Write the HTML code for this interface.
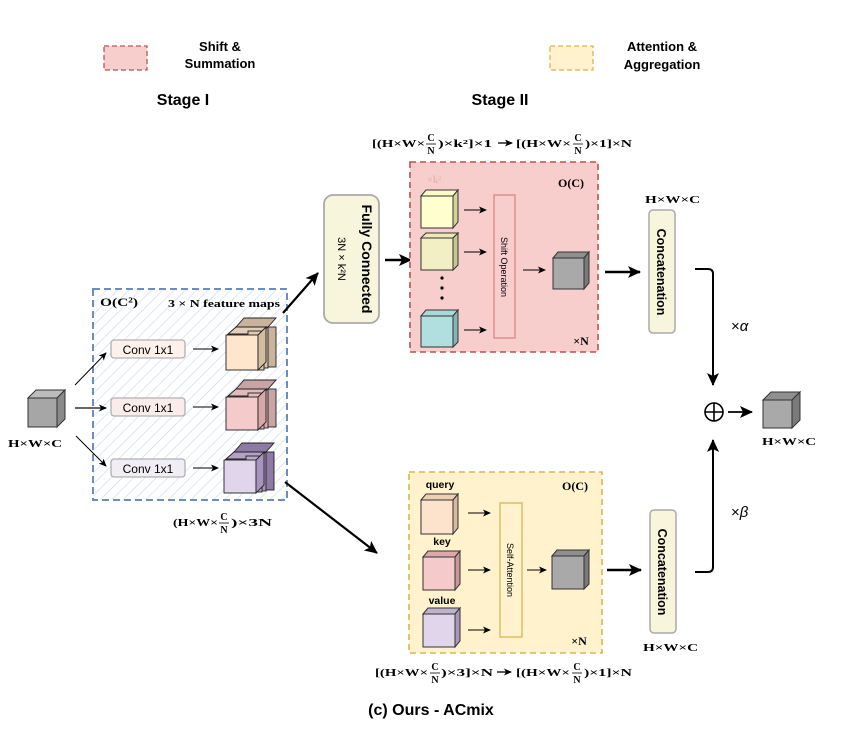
<!DOCTYPE html>
<html><head><meta charset="utf-8"><style>
html,body{margin:0;padding:0;background:#fff;}
svg{display:block;}
text{font-family:"Liberation Sans",sans-serif;}
.m{font-family:"Liberation Serif",serif;font-weight:bold;}
</style></head><body>
<svg width="868" height="730" viewBox="0 0 868 730" xmlns="http://www.w3.org/2000/svg">
<defs>
<marker id="a" markerWidth="8" markerHeight="8" refX="7" refY="4" orient="auto" markerUnits="userSpaceOnUse"><path d="M0,0.5 L8,4 L0,7.5 L2,4z" fill="#000"/></marker>
<marker id="b" markerWidth="14" markerHeight="12" refX="12" refY="6" orient="auto" markerUnits="userSpaceOnUse"><path d="M0,0 L13,6 L0,12 L3,6z" fill="#000"/></marker>
<pattern id="h" width="8" height="8" patternUnits="userSpaceOnUse" patternTransform="rotate(45)"><line x1="0" y1="0" x2="0" y2="8" stroke="#c5d8ef" stroke-width="1.2"/></pattern>
</defs>

<!-- legend -->
<rect x="104" y="46" width="43" height="24" fill="#f8cecc" stroke="#b85450" stroke-dasharray="5,3" stroke-width="1.3"/>
<text x="220" y="51" font-size="13" text-anchor="middle" font-weight="bold">Shift &amp;</text>
<text x="220" y="68" font-size="13" text-anchor="middle" font-weight="bold">Summation</text>
<rect x="550" y="46" width="43" height="24" fill="#fff2cc" stroke="#d6b656" stroke-dasharray="5,3" stroke-width="1.3"/>
<text x="662" y="51" font-size="13" text-anchor="middle" font-weight="bold">Attention &amp;</text>
<text x="662" y="69" font-size="13" text-anchor="middle" font-weight="bold">Aggregation</text>
<text x="183" y="105" font-size="16" text-anchor="middle" font-weight="bold">Stage I</text>
<text x="500" y="105" font-size="16" text-anchor="middle" font-weight="bold">Stage II</text>

<!-- input cube -->
<g stroke="#333" stroke-width="1">
<polygon points="28,398 36,390 65,390 57,398" fill="#bdbdbd"/>
<polygon points="57,398 65,390 65,419 57,427" fill="#8a8a8a"/>
<rect x="28" y="398" width="29" height="29" fill="#a6a6a6"/>
</g>
<text x="8" y="447" class="m" font-size="11" textLength="54" lengthAdjust="spacingAndGlyphs">H×W×C</text>

<!-- blue box -->
<rect x="93" y="289" width="194" height="211" fill="url(#h)" stroke="#6c8ebf" stroke-width="2" stroke-dasharray="7,4"/>
<text x="100" y="306" class="m" font-size="12" textLength="38" lengthAdjust="spacingAndGlyphs">O(C²)</text>
<text x="168" y="307" class="m" font-size="11" textLength="112" lengthAdjust="spacingAndGlyphs">3 × N  feature maps</text>

<line x1="75" y1="385" x2="106" y2="353" stroke="#000" stroke-width="1" marker-end="url(#a)"/>
<line x1="75" y1="408" x2="106" y2="408" stroke="#333" stroke-width="1.5" marker-end="url(#a)"/>
<line x1="76" y1="436" x2="106" y2="466" stroke="#000" stroke-width="1" marker-end="url(#a)"/>

<g font-size="12" text-anchor="middle">
<rect x="111" y="340" width="74" height="18" rx="3" fill="#fdf1ea" stroke="#b0b0b0" stroke-width="1.3"/>
<text x="148" y="354">Conv 1x1</text>
<rect x="111" y="398" width="74" height="18" rx="3" fill="#fbeceb" stroke="#b0b0b0" stroke-width="1.3"/>
<text x="148" y="412">Conv 1x1</text>
<rect x="111" y="459" width="74" height="18" rx="3" fill="#f1edf5" stroke="#b0b0b0" stroke-width="1.3"/>
<text x="148" y="473">Conv 1x1</text>
</g>
<line x1="193" y1="349" x2="218" y2="349" stroke="#000" marker-end="url(#a)"/>
<line x1="193" y1="407" x2="218" y2="407" stroke="#000" marker-end="url(#a)"/>
<line x1="193" y1="468" x2="218" y2="468" stroke="#000" marker-end="url(#a)"/>

<!-- stacks -->
<g stroke="#222" stroke-width="0.9">
<g>
<polygon points="236,327 244,318 276,318 268,327" fill="#c9b39c"/>
<rect x="256" y="327" width="20" height="40" fill="#c9b39c"/>
<rect x="252" y="327" width="16" height="41" fill="#d8c3ac"/>
<polygon points="228,334 236,327 268,327 260,334" fill="#e3cfb8"/>
<rect x="248" y="331" width="16" height="39" fill="#e0c9ae"/>
<rect x="226" y="335" width="32" height="35" fill="#fde6cc"/>
<polygon points="258,335 266,327 266,362 258,370" fill="#d4bca0"/>
</g>
<g>
<polygon points="236,389 244,380 276,380 268,389" fill="#c9a4a4"/>
<rect x="256" y="389" width="20" height="38" fill="#c9a4a4"/>
<rect x="252" y="389" width="16" height="39" fill="#d9b0b0"/>
<polygon points="228,396 236,389 268,389 260,396" fill="#e3baba"/>
<rect x="248" y="393" width="16" height="36" fill="#e4bcbc"/>
<rect x="226" y="397" width="32" height="33" fill="#f5caca"/>
<polygon points="258,397 266,389 266,422 258,430" fill="#d6a8a8"/>
</g>
<g>
<polygon points="234,452 242,443 274,443 266,452" fill="#8f7aa6"/>
<rect x="254" y="452" width="20" height="38" fill="#8f7aa6"/>
<rect x="250" y="452" width="16" height="39" fill="#a792bb"/>
<polygon points="226,459 234,452 266,452 258,459" fill="#b3a2c6"/>
<rect x="246" y="456" width="16" height="36" fill="#b8a8cb"/>
<rect x="224" y="460" width="32" height="33" fill="#e0d5ea"/>
<polygon points="256,460 264,452 264,485 256,493" fill="#a894bf"/>
</g>
</g>
<!-- (HxWxC/N)x3N -->
<g class="m" font-size="11">
<text x="173" y="526" class="m" textLength="45" lengthAdjust="spacingAndGlyphs">(H×W×</text>
<text x="224" y="520" class="m" font-size="10" text-anchor="middle">C</text>
<text x="224" y="533" class="m" font-size="10" text-anchor="middle">N</text>
<text x="231" y="526" class="m" textLength="41" lengthAdjust="spacingAndGlyphs">)×3N</text>
</g>
<line x1="219" y1="523" x2="229" y2="523" stroke="#000" stroke-width="0.8"/>

<!-- arrows to stage II -->
<line x1="283" y1="313" x2="318" y2="273" stroke="#000" stroke-width="2.2" marker-end="url(#b)"/>
<line x1="285" y1="482" x2="377" y2="553" stroke="#000" stroke-width="2.2" marker-end="url(#b)"/>

<!-- FC -->
<rect x="324" y="195" width="55" height="128" rx="9" fill="#f7f5dc" stroke="#aaa" stroke-width="1.8"/>
<text transform="translate(362,259) rotate(90)" font-size="14" font-weight="bold" text-anchor="middle">Fully Connected</text>
<text transform="translate(338,259) rotate(90)" font-family="Liberation Serif,serif" font-size="11" text-anchor="middle">3N × k²N</text>
<line x1="385" y1="260" x2="411" y2="260" stroke="#000" stroke-width="2.5" marker-end="url(#b)"/>

<!-- top formula -->
<text x="372" y="147" class="m" font-size="11" textLength="53" lengthAdjust="spacingAndGlyphs">[(H×W×</text>
<text x="431" y="141" class="m" font-size="10" text-anchor="middle">C</text>
<text x="431" y="154" class="m" font-size="10" text-anchor="middle">N</text>
<line x1="426" y1="144" x2="436" y2="144" stroke="#000" stroke-width="0.8"/>
<text x="438" y="147" class="m" font-size="11" textLength="54" lengthAdjust="spacingAndGlyphs">)×k²]×1</text>
<line x1="498" y1="143" x2="512" y2="143" stroke="#000" stroke-width="1.3" marker-end="url(#a)"/>
<text x="516" y="147" class="m" font-size="11" textLength="55" lengthAdjust="spacingAndGlyphs">[(H×W×</text>
<text x="578" y="141" class="m" font-size="10" text-anchor="middle">C</text>
<text x="578" y="154" class="m" font-size="10" text-anchor="middle">N</text>
<line x1="573" y1="144" x2="583" y2="144" stroke="#000" stroke-width="0.8"/>
<text x="585" y="147" class="m" font-size="11" textLength="47" lengthAdjust="spacingAndGlyphs">)×1]×N</text>

<!-- pink box -->
<rect x="410" y="162" width="188" height="190" fill="#f8cecc" stroke="#b85450" stroke-width="1.6" stroke-dasharray="6,4"/>
<text x="427" y="183" class="m" font-size="10" fill="#e8b4b2">×k²</text>
<text x="571" y="187" class="m" font-size="12" text-anchor="middle">O(C)</text>
<text x="581" y="345" class="m" font-size="12" text-anchor="middle">×N</text>
<g stroke="#333" stroke-width="1">
<polygon points="421,196 426,190 458,190 453,196" fill="#fdfbc8"/><polygon points="453,196 458,190 458,222 453,228" fill="#d6d39a"/><rect x="421" y="196" width="32" height="32" fill="#fffecf"/>
<polygon points="421,238 426,233 458,233 453,238" fill="#eeeab8"/><polygon points="453,238 458,233 458,265 453,270" fill="#c9c58f"/><rect x="421" y="238" width="32" height="32" fill="#f2efc5"/>
<polygon points="421,316 426,310 458,310 453,316" fill="#a9d8d9"/><polygon points="453,316 458,310 458,342 453,347" fill="#86b4b6"/><rect x="421" y="316" width="32" height="31" fill="#b1dfe0"/>
</g>
<circle cx="442" cy="278" r="1.6" fill="#000"/><circle cx="442" cy="288" r="1.6" fill="#000"/><circle cx="442" cy="298" r="1.6" fill="#000"/>
<line x1="464" y1="210" x2="486" y2="210" stroke="#000" marker-end="url(#a)"/>
<line x1="464" y1="252" x2="486" y2="252" stroke="#000" marker-end="url(#a)"/>
<line x1="464" y1="330" x2="486" y2="330" stroke="#000" marker-end="url(#a)"/>
<rect x="494" y="195" width="21" height="143" fill="#f8cecc" stroke="#d88886" stroke-width="1.3"/>
<text transform="translate(501,267) rotate(90)" font-size="9" text-anchor="middle">Shift Operation</text>
<line x1="523" y1="270" x2="545" y2="270" stroke="#000" marker-end="url(#a)"/>
<g stroke="#333" stroke-width="1">
<polygon points="553,258 558,252 589,252 584,258" fill="#8f8f8f"/><polygon points="584,258 589,252 589,283 584,289" fill="#7a7a7a"/><rect x="553" y="258" width="31" height="31" fill="#a9a9a9"/>
</g>
<line x1="605" y1="272" x2="640" y2="272" stroke="#000" stroke-width="2.5" marker-end="url(#b)"/>

<!-- concat 1 -->
<text x="645" y="203" class="m" font-size="11" textLength="55" lengthAdjust="spacingAndGlyphs">H×W×C</text>
<rect x="649" y="210" width="26" height="123" rx="4" fill="#f7f5dc" stroke="#aaa" stroke-width="1.5"/>
<text transform="translate(657,272) rotate(90)" font-size="12.5" font-weight="bold" text-anchor="middle">Concatenation</text>
<path d="M695,269 L708,269 Q713,269 713,274 L713,385" fill="none" stroke="#000" stroke-width="2" marker-end="url(#b)"/>
<text x="731" y="331" font-size="15" font-family="Liberation Serif,serif">×<tspan font-style="italic">α</tspan></text>

<circle cx="714" cy="412" r="9" fill="none" stroke="#000" stroke-width="1.6"/>
<line x1="705" y1="412" x2="723" y2="412" stroke="#000" stroke-width="1.6"/>
<line x1="714" y1="403" x2="714" y2="421" stroke="#000" stroke-width="1.6"/>
<line x1="728" y1="412" x2="752" y2="412" stroke="#000" stroke-width="1.8" marker-end="url(#b)"/>
<g stroke="#333" stroke-width="1">
<polygon points="763,400 771,392 800,392 792,400" fill="#8f8f8f"/><polygon points="792,400 800,392 800,420 792,428" fill="#7a7a7a"/><rect x="763" y="400" width="29" height="28" fill="#a9a9a9"/>
</g>
<text x="762" y="445" class="m" font-size="11" textLength="54" lengthAdjust="spacingAndGlyphs">H×W×C</text>

<path d="M695,572 L708,572 Q713,572 713,567 L713,440" fill="none" stroke="#000" stroke-width="2" marker-end="url(#b)"/>
<text x="731" y="517" font-size="15" font-family="Liberation Serif,serif">×<tspan font-style="italic">β</tspan></text>

<!-- yellow box -->
<rect x="409" y="472" width="193" height="181" fill="#fff2cc" stroke="#d6b656" stroke-width="1.6" stroke-dasharray="6,4"/>
<text x="440" y="488" font-size="10.5" font-weight="bold" text-anchor="middle">query</text>
<text x="442" y="545" font-size="10.5" font-weight="bold" text-anchor="middle">key</text>
<text x="442" y="604" font-size="10.5" font-weight="bold" text-anchor="middle">value</text>
<text x="575" y="490" class="m" font-size="12" text-anchor="middle">O(C)</text>
<text x="579" y="645" class="m" font-size="12" text-anchor="middle">×N</text>
<g stroke="#333" stroke-width="1">
<polygon points="421,500 426,494 458,494 453,500" fill="#eccfb4"/><polygon points="453,500 458,494 458,528 453,534" fill="#d8b9a0"/><rect x="421" y="500" width="32" height="34" fill="#fde3cc"/>
<polygon points="423,557 428,551 460,551 455,557" fill="#dca8a8"/><polygon points="455,557 460,551 460,584 455,590" fill="#c99898"/><rect x="423" y="557" width="32" height="33" fill="#f5caca"/>
<polygon points="423,614 428,608 460,608 455,614" fill="#bfb1cf"/><polygon points="455,614 460,608 460,641 455,647" fill="#a898bb"/><rect x="423" y="614" width="32" height="33" fill="#e0d5ea"/>
</g>
<line x1="468" y1="513" x2="490" y2="513" stroke="#000" marker-end="url(#a)"/>
<line x1="468" y1="570" x2="490" y2="570" stroke="#000" marker-end="url(#a)"/>
<line x1="468" y1="630" x2="490" y2="630" stroke="#000" marker-end="url(#a)"/>
<rect x="500" y="503" width="22" height="134" fill="#fff2cc" stroke="#d6b656" stroke-width="1.3"/>
<text transform="translate(507,570) rotate(90)" font-size="9" text-anchor="middle">Self-Attention</text>
<line x1="527" y1="570" x2="546" y2="570" stroke="#000" marker-end="url(#a)"/>
<g stroke="#333" stroke-width="1">
<polygon points="552,556 557,550 589,550 584,556" fill="#8f8f8f"/><polygon points="584,556 589,550 589,584 584,589" fill="#7a7a7a"/><rect x="552" y="556" width="32" height="33" fill="#a9a9a9"/>
</g>
<line x1="607" y1="570" x2="641" y2="570" stroke="#000" stroke-width="2.5" marker-end="url(#b)"/>
<rect x="650" y="510" width="26" height="123" rx="4" fill="#f7f5dc" stroke="#aaa" stroke-width="1.5"/>
<text transform="translate(658,572) rotate(90)" font-size="12.5" font-weight="bold" text-anchor="middle">Concatenation</text>
<text x="643" y="651" class="m" font-size="11" textLength="55" lengthAdjust="spacingAndGlyphs">H×W×C</text>

<!-- bottom formula -->
<text x="375" y="676" class="m" font-size="11" textLength="53" lengthAdjust="spacingAndGlyphs">[(H×W×</text>
<text x="435" y="670" class="m" font-size="10" text-anchor="middle">C</text>
<text x="435" y="683" class="m" font-size="10" text-anchor="middle">N</text>
<line x1="430" y1="673" x2="440" y2="673" stroke="#000" stroke-width="0.8"/>
<text x="441" y="676" class="m" font-size="11" textLength="52" lengthAdjust="spacingAndGlyphs">)×3]×N</text>
<line x1="497" y1="672" x2="511" y2="672" stroke="#000" stroke-width="1.3" marker-end="url(#a)"/>
<text x="516" y="676" class="m" font-size="11" textLength="54" lengthAdjust="spacingAndGlyphs">[(H×W×</text>
<text x="577" y="670" class="m" font-size="10" text-anchor="middle">C</text>
<text x="577" y="683" class="m" font-size="10" text-anchor="middle">N</text>
<line x1="572" y1="673" x2="582" y2="673" stroke="#000" stroke-width="0.8"/>
<text x="584" y="676" class="m" font-size="11" textLength="48" lengthAdjust="spacingAndGlyphs">)×1]×N</text>

<text x="431" y="715" font-size="16" font-weight="bold" text-anchor="middle">(c) Ours - ACmix</text>
</svg>
</body></html>
